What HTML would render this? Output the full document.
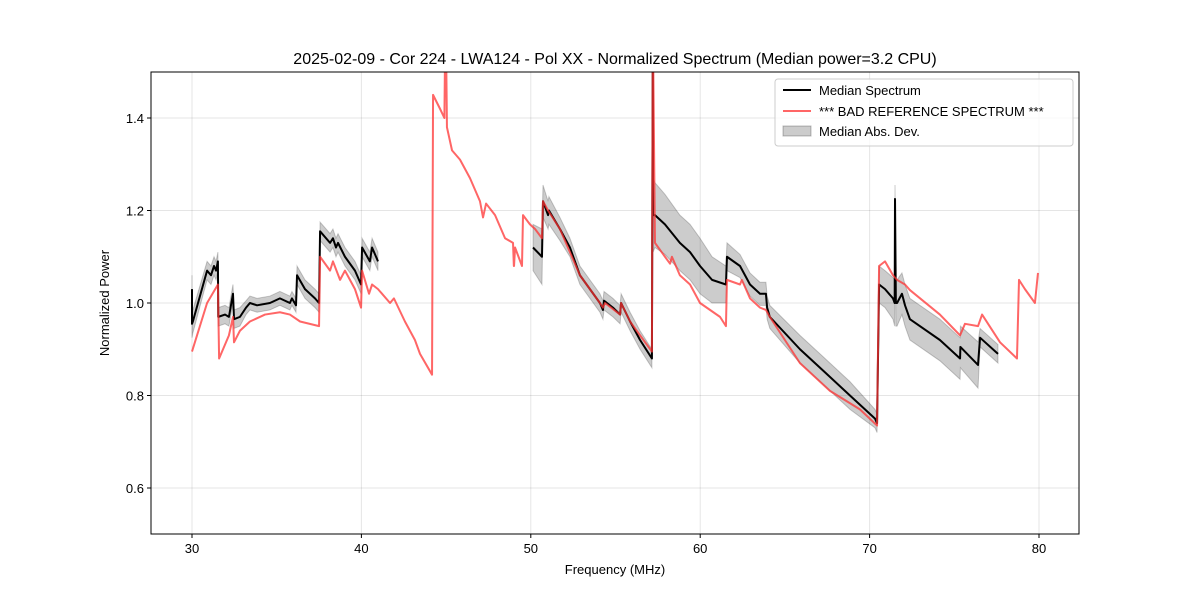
<!DOCTYPE html>
<html><head><meta charset="utf-8">
<style>
body{margin:0;background:#fff;font-family:"Liberation Sans","DejaVu Sans",sans-serif;}
svg text{font-family:"Liberation Sans","DejaVu Sans",sans-serif;}
</style></head>
<body>
<svg id="chart" width="1200" height="600" xmlns="http://www.w3.org/2000/svg">
<rect width="1200" height="600" fill="#fff"/>
<g id="grid"></g>
<g id="plot"></g>
<rect x="151" y="72" width="928" height="462" fill="none" stroke="#000" stroke-width="1"/>
<g id="ticks"></g>
<text x="615" y="64" font-size="16" text-anchor="middle">2025-02-09 - Cor 224 - LWA124 - Pol XX - Normalized Spectrum (Median power=3.2 CPU)</text>
<text x="615" y="574" font-size="13" text-anchor="middle">Frequency (MHz)</text>
<text x="109" y="303" font-size="13" text-anchor="middle" transform="rotate(-90 109 303)">Normalized Power</text>
<g>
<rect x="775" y="79" width="298" height="67" rx="3" fill="#fff" fill-opacity="0.8" stroke="#ccc"/>
<line x1="783" y1="90" x2="811" y2="90" stroke="#000" stroke-width="2"/>
<text x="819" y="95" font-size="13">Median Spectrum</text>
<line x1="783" y1="111" x2="811" y2="111" stroke="#ff5555" stroke-opacity="0.9" stroke-width="2"/>
<text x="819" y="116" font-size="13">*** BAD REFERENCE SPECTRUM ***</text>
<rect x="783" y="126" width="28" height="10" fill="#000" fill-opacity="0.2" stroke="#000" stroke-opacity="0.25"/>
<text x="819" y="136" font-size="13">Median Abs. Dev.</text>
</g>
</svg>
<script>
const xTicks=[30,40,50,60,70,80];
const yTicks=[0.6,0.8,1.0,1.2,1.4];
const medFreq=[30.0,30.0,30.05,30.89,31.12,31.3,31.42,31.53,31.55,31.95,32.18,32.42,32.48,32.83,33.19,33.42,33.84,34.6,35.19,35.78,35.9,36.14,36.2,36.67,37.26,37.5,37.56,38.15,38.32,38.5,38.62,39.03,39.62,39.98,40.04,40.5,40.63,40.98,null,
50.13,50.66,50.72,51.02,51.07,51.72,52.31,52.9,53.49,54.08,54.26,54.32,54.85,55.27,55.33,55.86,56.45,57.15,57.2,57.22,57.33,57.92,58.8,59.4,59.99,60.7,61.52,61.58,62.35,62.94,63.53,63.88,63.95,64.11,65.89,67.37,68.84,70.32,70.44,70.56,70.91,71.38,71.48,71.5,71.55,71.62,71.91,72.09,72.38,74.15,75.34,75.36,76.4,76.52,77.58];
const medVal=[1.03,0.955,0.96,1.07,1.06,1.08,1.07,1.09,0.97,0.975,0.97,1.02,0.965,0.97,0.99,1.0,0.995,1.0,1.01,1.0,1.01,0.995,1.06,1.03,1.01,1.0,1.155,1.13,1.14,1.12,1.13,1.1,1.07,1.04,1.12,1.09,1.12,1.09,null,
1.12,1.10,1.22,1.19,1.2,1.16,1.12,1.06,1.03,1.0,0.985,1.005,0.99,0.975,1.0,0.96,0.92,0.88,1.55,1.19,1.19,1.17,1.13,1.11,1.08,1.05,1.04,1.1,1.08,1.04,1.02,1.02,0.99,0.97,0.9,0.85,0.8,0.75,0.74,1.04,1.03,1.01,1.0,1.225,1.0,1.0,1.02,0.995,0.965,0.92,0.88,0.905,0.866,0.925,0.89];
const madHalf=[0.03,0.03,0.025,0.02,0.02,0.02,0.02,0.02,0.02,0.02,0.02,0.02,0.02,0.02,0.015,0.015,0.015,0.015,0.015,0.015,0.015,0.015,0.02,0.02,0.02,0.02,0.02,0.02,0.02,0.02,0.02,0.02,0.02,0.02,0.02,0.02,0.02,0.02,null,
0.05,0.06,0.035,0.03,0.03,0.025,0.02,0.02,0.02,0.02,0.02,0.02,0.02,0.02,0.02,0.02,0.02,0.02,0.02,0.08,0.07,0.065,0.06,0.06,0.06,0.05,0.04,0.03,0.025,0.025,0.025,0.025,0.025,0.025,0.03,0.03,0.03,0.02,0.02,0.04,0.04,0.045,0.05,0.03,0.05,0.05,0.045,0.045,0.045,0.045,0.045,0.045,0.05,0.02,0.02];
const refFreq=[30.0,30.89,31.53,31.6,32.18,32.42,32.48,32.83,33.42,34.31,35.19,35.78,36.38,37.5,37.56,38.15,38.32,38.74,39.03,39.62,39.98,40.04,40.45,40.63,40.98,41.69,41.92,42.57,43.16,43.46,44.17,44.23,44.64,44.9,44.94,45.0,45.05,45.35,45.82,46.41,47.0,47.18,47.36,47.89,48.48,48.95,49.0,49.01,49.07,49.48,49.54,49.95,50.25,50.66,50.72,51.02,51.72,52.31,52.9,53.49,54.08,54.26,54.38,55.27,55.33,55.86,56.45,57.15,57.2,57.22,57.33,57.92,58.22,58.33,58.8,59.4,59.99,61.17,61.52,61.58,62.35,62.46,62.94,63.53,63.88,64.11,65.89,67.66,69.43,70.44,70.56,70.91,71.38,71.62,72.09,72.38,74.15,75.34,75.63,76.4,76.64,77.7,78.7,78.82,79.17,79.76,79.94];
const refVal=[0.895,1.0,1.04,0.88,0.93,0.97,0.915,0.94,0.96,0.975,0.98,0.975,0.96,0.95,1.1,1.07,1.09,1.05,1.07,1.03,0.99,1.07,1.02,1.04,1.03,1.0,1.01,0.96,0.92,0.89,0.845,1.45,1.42,1.4,1.55,1.55,1.38,1.33,1.31,1.27,1.22,1.185,1.215,1.19,1.14,1.13,1.08,1.08,1.12,1.08,1.19,1.17,1.16,1.14,1.22,1.2,1.16,1.11,1.06,1.03,1.0,0.99,1.0,0.975,1.0,0.96,0.93,0.895,1.55,1.55,1.13,1.1,1.085,1.1,1.06,1.04,1.0,0.97,0.95,1.05,1.04,1.05,1.01,0.99,0.985,0.97,0.87,0.81,0.77,0.735,1.08,1.09,1.06,1.05,1.04,1.028,0.975,0.93,0.955,0.95,0.975,0.915,0.88,1.05,1.03,1.0,1.065];

const X0=151,X1=1079,Y0=72,Y1=534;
const xs=f=>192+(f-30)*16.94;
const ys=v=>303-(v-1.0)*462.5;
const NS='http://www.w3.org/2000/svg';
function mk(tag,parent,attrs){const e=document.createElementNS(NS,tag);for(const k in attrs)e.setAttribute(k,attrs[k]);parent.appendChild(e);return e;}
const grid=document.getElementById('grid'),ticks=document.getElementById('ticks'),plot=document.getElementById('plot');
xTicks.forEach(t=>{const x=xs(t);
 const g=mk('line',grid,{x1:x,x2:x,y1:Y0,y2:Y1,stroke:'#000','stroke-opacity':0.1});
 
 
 mk('line',ticks,{x1:x,x2:x,y1:Y1,y2:Y1+4,stroke:'#000'});
 const tx=mk('text',ticks,{x:x,y:Y1+19,'font-size':13,'text-anchor':'middle'});tx.textContent=t;
 
 
});
yTicks.forEach(t=>{const y=ys(t);
 const g=mk('line',grid,{x1:X0,x2:X1,y1:y,y2:y,stroke:'#000','stroke-opacity':0.1});
 
 
 mk('line',ticks,{x1:X0-4,x2:X0,y1:y,y2:y,stroke:'#000'});
 const tx=mk('text',ticks,{x:X0-7,y:y+5,'font-size':13,'text-anchor':'end'});tx.textContent=t.toFixed(1);
 
 
});
mk('clipPath',plot,{id:'clip'}).appendChild(document.createElementNS(NS,'rect'));
const cr=plot.querySelector('#clip rect');cr.setAttribute('x',X0);cr.setAttribute('y',Y0);cr.setAttribute('width',X1-X0);cr.setAttribute('height',Y1-Y0);
function segments(fr){const segs=[];let cur=[];fr.forEach((f,i)=>{if(f===null){if(cur.length)segs.push(cur);cur=[];}else cur.push(i);});if(cur.length)segs.push(cur);return segs;}
segments(medFreq).forEach(seg=>{
 const up=seg.map(i=>xs(medFreq[i])+','+ys(medVal[i]+madHalf[i]));
 const lo=seg.slice().reverse().map(i=>xs(medFreq[i])+','+ys(medVal[i]-madHalf[i]));
 const p=mk('polygon',plot,{points:up.concat(lo).join(' '),fill:'#000','fill-opacity':0.2,stroke:'#000','stroke-opacity':0.2,'clip-path':'url(#clip)'});
 
 
});
segments(medFreq).forEach(seg=>{
 const p=mk('polyline',plot,{points:seg.map(i=>xs(medFreq[i])+','+ys(medVal[i])).join(' '),fill:'none',stroke:'#000','stroke-width':2,'stroke-linejoin':'round','clip-path':'url(#clip)'});
 
 
});
const r=mk('polyline',plot,{points:refFreq.map((f,i)=>xs(f)+','+ys(refVal[i])).join(' '),fill:'none',stroke:'#ff3333','stroke-opacity':0.75,'stroke-width':2,'stroke-linejoin':'round','clip-path':'url(#clip)'});


</script>
</body></html>
